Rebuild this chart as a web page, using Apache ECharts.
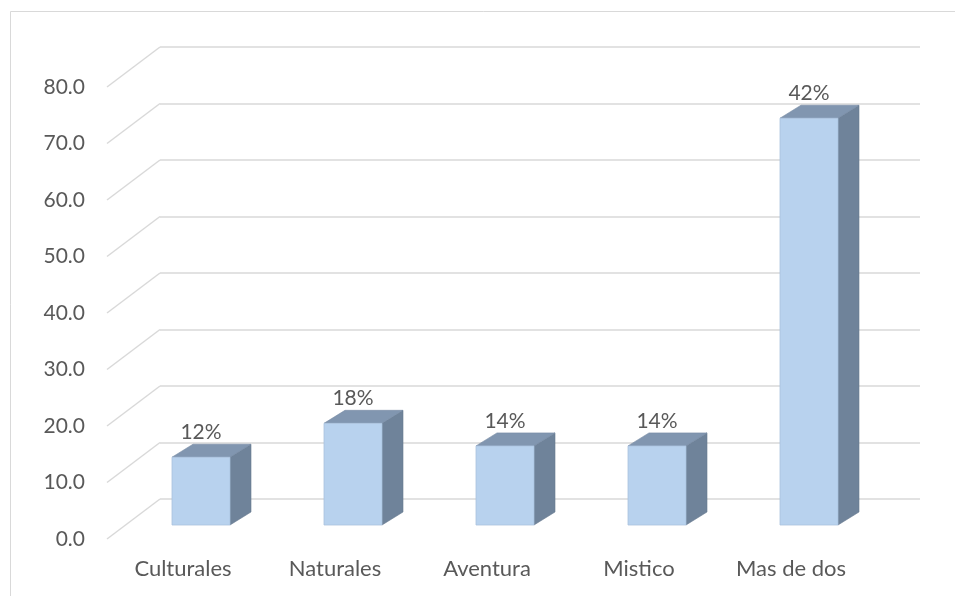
<!DOCTYPE html>
<html>
<head>
<meta charset="utf-8">
<script src="https://cdn.jsdelivr.net/npm/echarts@6/dist/echarts.min.js"></script>
<style>
html,body{margin:0;padding:0;background:#fff;}
#chart{width:955px;height:596px;}
</style>
</head>
<body>
<div id="chart"></div>
<script>
// ---- data ----
const categories = ['Culturales', 'Naturales', 'Aventura', 'Mistico', 'Mas de dos'];
const values = [12, 18, 14, 14, 72];
const percentLabels = ['12%', '18%', '14%', '14%', '42%'];
const yTicks = [0, 10, 20, 30, 40, 50, 60, 70, 80];

// ---- style constants ----
const FONT = 'Lato, "Liberation Sans", sans-serif';
const TEXT = '#595959';
const GRID = '#d9d9d9';
const DEPTH_X = 53, DEPTH_Y = 40;       // full depth of the 3D box
const BAR_OFF_X = 18, BAR_OFF_Y = 14;   // bar front face position inside depth
const BAR_DX = 21, BAR_DY = 13;         // bar depth
const BAR_W = 58;

const chart = echarts.init(document.getElementById('chart'));

const option = {
  animation: false,
  backgroundColor: '#fff',
  graphic: [{
    type: 'rect',
    shape: { x: 10.5, y: 11.5, width: 1000, height: 700 },
    style: { fill: 'none', stroke: '#d9d9d9', lineWidth: 1 },
    silent: true
  }],
  grid: [
    { left: 160, right: 35, top: 47, bottom: 97 },   // back wall
    { left: 107, right: 88, top: 87, bottom: 57 }    // front plane
  ],
  xAxis: [
    { type: 'category', gridIndex: 0, data: categories, show: false },
    { type: 'category', gridIndex: 1, data: categories,
      axisLine: { show: false }, axisTick: { show: false },
      axisLabel: { color: TEXT, fontFamily: FONT, fontSize: 22, margin: 19 } }
  ],
  yAxis: [
    { type: 'value', gridIndex: 0, min: 0, max: 80, interval: 10,
      axisLine: { show: false }, axisTick: { show: false }, axisLabel: { show: false },
      splitLine: { show: true, lineStyle: { color: GRID, width: 1.5 } } },
    { type: 'value', gridIndex: 1, min: 0, max: 80, interval: 10,
      axisLine: { show: false }, axisTick: { show: false },
      splitLine: { show: false },
      axisLabel: { color: TEXT, fontFamily: FONT, fontSize: 21, margin: 22,
        formatter: v => v.toFixed(1) } }
  ],
  series: [
    {
      type: 'custom',
      xAxisIndex: 1, yAxisIndex: 1,
      z: 1,
      silent: true,
      clip: false,
      data: yTicks.map(v => [0, v]),
      renderItem: function (params, api) {
        const p = api.coord([0, api.value(1)]);
        const x0 = params.coordSys.x;
        return {
          type: 'line',
          shape: { x1: x0, y1: p[1], x2: x0 + DEPTH_X, y2: p[1] - DEPTH_Y },
          style: { stroke: GRID, lineWidth: 1.5 }
        };
      }
    },
    {
      type: 'custom',
      xAxisIndex: 1, yAxisIndex: 1,
      z: 3,
      clip: false,
      data: values.map((v, i) => [i, v]),
      renderItem: function (params, api) {
        const i = api.value(0);
        const p0 = api.coord([i, 0]);
        const p1 = api.coord([i, api.value(1)]);
        const cx = p0[0] + BAR_OFF_X;
        const bottom = p0[1] - BAR_OFF_Y;
        const top = p1[1] - BAR_OFF_Y;
        const l = cx - BAR_W / 2, r = cx + BAR_W / 2;
        return {
          type: 'group',
          children: [
            { type: 'polygon',
              shape: { points: [[r, top], [r + BAR_DX, top - BAR_DY], [r + BAR_DX, bottom - BAR_DY], [r, bottom]] },
              style: { fill: '#6f839a', stroke: '#67798f', lineWidth: 0.6 } },
            { type: 'polygon',
              shape: { points: [[l, top], [l + BAR_DX, top - BAR_DY], [r + BAR_DX, top - BAR_DY], [r, top]] },
              style: { fill: '#8196b0', stroke: '#7689a2', lineWidth: 0.6 } },
            { type: 'rect',
              shape: { x: l, y: top, width: BAR_W, height: bottom - top },
              style: { fill: '#b8d2ee', stroke: '#a9c2dd', lineWidth: 0.8 } },
            { type: 'text',
              style: { text: percentLabels[i], x: cx, y: top - 25,
                align: 'center', verticalAlign: 'middle',
                fill: TEXT, font: '21px ' + FONT } }
          ]
        };
      }
    }
  ]
};
chart.setOption(option);
</script>
</body>
</html>
